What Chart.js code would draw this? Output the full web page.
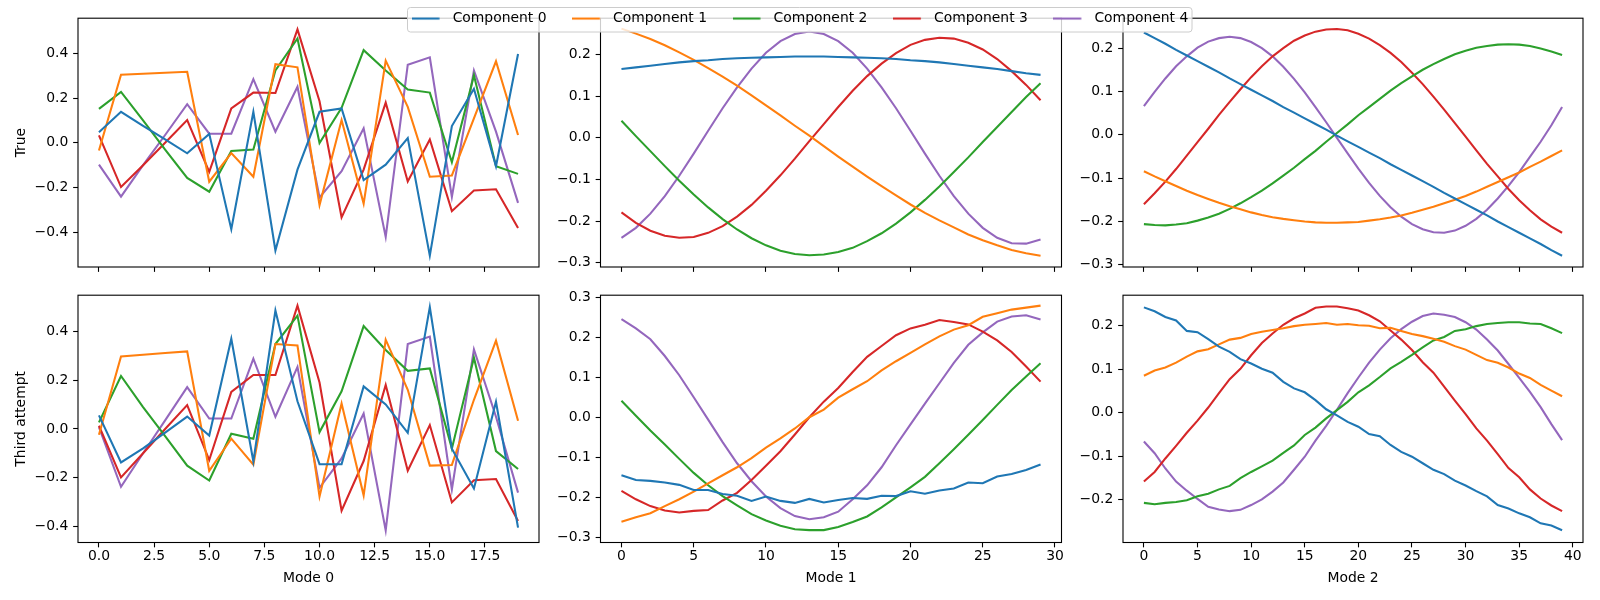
<!DOCTYPE html>
<html><head><meta charset="utf-8">
<script src="https://cdn.jsdelivr.net/npm/chart.js@4.4.0/dist/chart.umd.min.js"></script>
<style>
html,body{margin:0;padding:0;background:#fff;}
#wrap{position:relative;width:1600px;height:600px;overflow:hidden;background:#fff;}
#wrap canvas{position:absolute;}
</style></head><body><div id="wrap"></div>
<script>
const componentNames = ['Component 0','Component 1','Component 2','Component 3','Component 4'];
const componentColors = ['#1f77b4','#ff7f0e','#2ca02c','#d62728','#9467bd'];
const rowLabels = ['True','Third attempt'];
const modeLabels = ['Mode 0','Mode 1','Mode 2'];

const mode0X = [0,1,2,3,4,5,6,7,8,9,10,11,12,13,14,15,16,17,18,19];
const mode1X = [0,1,2,3,4,5,6,7,8,9,10,11,12,13,14,15,16,17,18,19,20,21,22,23,24,25,26,27,28,29];
const mode2X = [0,1,2,3,4,5,6,7,8,9,10,11,12,13,14,15,16,17,18,19,20,21,22,23,24,25,26,27,28,29,30,31,32,33,34,35,36,37,38,39];

const mode0XTicks = [0,2.5,5,7.5,10,12.5,15,17.5];
const mode1XTicks = [0,5,10,15,20,25,30];
const mode2XTicks = [0,5,10,15,20,25,30,35,40];

const trueMode0YTicks = [-0.4,-0.2,0,0.2,0.4];
const thirdMode0YTicks = [-0.4,-0.2,0,0.2,0.4];
const trueMode1YTicks = [-0.3,-0.2,-0.1,0,0.1,0.2];
const thirdMode1YTicks = [-0.3,-0.2,-0.1,0,0.1,0.2,0.3];
const trueMode2YTicks = [-0.3,-0.2,-0.1,0,0.1,0.2];
const thirdMode2YTicks = [-0.2,-0.1,0,0.1,0.2];

const trueMode0 = [
  [0.047,0.139,0.076,0.015,-0.047,0.040,-0.387,0.139,-0.482,-0.120,0.139,0.154,-0.167,-0.098,0.021,-0.505,0.075,0.242,-0.105,0.398],
  [-0.034,0.305,0.309,0.314,0.318,-0.174,-0.046,-0.152,0.352,0.338,-0.279,0.102,-0.272,0.368,0.161,-0.152,-0.146,0.110,0.365,0.035],
  [0.152,0.228,0.100,-0.030,-0.157,-0.219,-0.037,-0.030,0.324,0.467,-0.001,0.157,0.415,0.324,0.239,0.225,-0.087,0.302,-0.105,-0.139],
  [0.033,-0.198,-0.100,0.000,0.102,-0.130,0.154,0.225,0.223,0.508,0.186,-0.334,-0.120,0.180,-0.173,0.015,-0.306,-0.213,-0.208,-0.381],
  [-0.098,-0.241,-0.100,0.035,0.173,0.041,0.041,0.285,0.050,0.251,-0.245,-0.127,0.065,-0.421,0.350,0.383,-0.242,0.324,0.050,-0.269]
];
const thirdMode0 = [
  [0.056,-0.138,-0.080,-0.015,0.051,-0.027,0.371,-0.134,0.487,0.114,-0.145,-0.145,0.175,0.101,-0.016,0.501,-0.081,-0.245,0.112,-0.406],
  [-0.024,0.298,0.305,0.312,0.319,-0.172,-0.040,-0.147,0.349,0.343,-0.278,0.105,-0.273,0.367,0.161,-0.151,-0.148,0.120,0.363,0.034],
  [0.027,0.218,0.090,-0.030,-0.151,-0.212,-0.020,-0.040,0.349,0.466,-0.013,0.155,0.423,0.325,0.239,0.249,-0.081,0.293,-0.091,-0.165],
  [0.013,-0.199,-0.100,0.000,0.098,-0.128,0.152,0.222,0.222,0.507,0.191,-0.336,-0.132,0.181,-0.172,0.016,-0.302,-0.211,-0.206,-0.379],
  [0.007,-0.238,-0.100,0.035,0.172,0.043,0.043,0.289,0.050,0.255,-0.242,-0.121,0.063,-0.417,0.349,0.380,-0.249,0.327,0.050,-0.262]
];
const trueMode1 = [
  [0.165,0.169,0.173,0.177,0.181,0.184,0.186,0.189,0.191,0.192,0.193,0.194,0.195,0.195,0.195,0.194,0.193,0.192,0.191,0.189,0.186,0.184,0.181,0.177,0.173,0.169,0.165,0.160,0.155,0.151],
  [0.262,0.250,0.237,0.222,0.205,0.187,0.167,0.147,0.125,0.102,0.078,0.054,0.029,0.005,-0.020,-0.045,-0.069,-0.093,-0.116,-0.138,-0.160,-0.180,-0.198,-0.215,-0.232,-0.246,-0.258,-0.269,-0.277,-0.283],
  [0.041,0.004,-0.032,-0.068,-0.103,-0.136,-0.167,-0.195,-0.220,-0.241,-0.258,-0.271,-0.279,-0.282,-0.280,-0.274,-0.264,-0.248,-0.229,-0.206,-0.179,-0.149,-0.117,-0.082,-0.047,-0.010,0.026,0.062,0.098,0.131],
  [-0.179,-0.204,-0.223,-0.235,-0.240,-0.238,-0.228,-0.212,-0.189,-0.161,-0.127,-0.090,-0.050,-0.008,0.033,0.074,0.113,0.148,0.178,0.203,0.223,0.235,0.240,0.238,0.228,0.212,0.189,0.160,0.127,0.090],
  [-0.240,-0.216,-0.182,-0.140,-0.091,-0.038,0.017,0.071,0.121,0.166,0.204,0.232,0.249,0.255,0.249,0.232,0.204,0.166,0.121,0.071,0.017,-0.038,-0.091,-0.140,-0.182,-0.216,-0.240,-0.253,-0.254,-0.244]
];
const thirdMode1 = [
  [-0.145,-0.157,-0.159,-0.163,-0.169,-0.182,-0.182,-0.192,-0.196,-0.209,-0.198,-0.209,-0.214,-0.204,-0.213,-0.207,-0.202,-0.204,-0.196,-0.197,-0.185,-0.191,-0.183,-0.178,-0.163,-0.165,-0.148,-0.142,-0.132,-0.118],
  [-0.261,-0.250,-0.240,-0.222,-0.205,-0.186,-0.165,-0.145,-0.125,-0.102,-0.076,-0.053,-0.028,0.000,0.019,0.049,0.070,0.090,0.117,0.140,0.161,0.182,0.202,0.219,0.230,0.251,0.260,0.269,0.274,0.279],
  [0.041,0.004,-0.033,-0.068,-0.104,-0.139,-0.170,-0.197,-0.220,-0.242,-0.258,-0.271,-0.280,-0.282,-0.282,-0.274,-0.262,-0.248,-0.225,-0.200,-0.175,-0.149,-0.115,-0.080,-0.044,-0.007,0.031,0.068,0.102,0.135],
  [-0.184,-0.205,-0.222,-0.233,-0.238,-0.234,-0.232,-0.208,-0.189,-0.157,-0.121,-0.085,-0.043,0.000,0.039,0.073,0.113,0.151,0.178,0.205,0.222,0.231,0.243,0.238,0.232,0.214,0.192,0.163,0.127,0.089],
  [0.245,0.222,0.195,0.153,0.105,0.050,-0.006,-0.062,-0.115,-0.160,-0.198,-0.227,-0.247,-0.255,-0.250,-0.236,-0.205,-0.170,-0.125,-0.070,-0.018,0.034,0.085,0.136,0.181,0.212,0.239,0.252,0.255,0.244]
];
const trueMode2 = [
  [0.236,0.223,0.210,0.196,0.183,0.170,0.157,0.144,0.130,0.117,0.104,0.091,0.078,0.064,0.051,0.038,0.025,0.012,-0.002,-0.015,-0.028,-0.041,-0.054,-0.068,-0.081,-0.094,-0.107,-0.120,-0.134,-0.147,-0.160,-0.173,-0.186,-0.200,-0.213,-0.226,-0.239,-0.252,-0.266,-0.279],
  [-0.084,-0.096,-0.107,-0.118,-0.129,-0.139,-0.148,-0.157,-0.165,-0.172,-0.179,-0.185,-0.190,-0.194,-0.197,-0.200,-0.202,-0.203,-0.203,-0.202,-0.201,-0.198,-0.195,-0.191,-0.186,-0.180,-0.173,-0.166,-0.158,-0.150,-0.141,-0.131,-0.120,-0.109,-0.098,-0.087,-0.074,-0.062,-0.049,-0.036],
  [-0.206,-0.208,-0.209,-0.207,-0.204,-0.198,-0.191,-0.182,-0.171,-0.158,-0.144,-0.129,-0.112,-0.094,-0.076,-0.056,-0.037,-0.016,0.004,0.024,0.045,0.064,0.083,0.102,0.119,0.135,0.150,0.163,0.175,0.186,0.194,0.201,0.205,0.208,0.209,0.208,0.205,0.199,0.192,0.184],
  [-0.160,-0.135,-0.108,-0.079,-0.048,-0.017,0.014,0.046,0.076,0.105,0.133,0.158,0.181,0.200,0.217,0.229,0.238,0.243,0.244,0.241,0.233,0.222,0.207,0.189,0.168,0.143,0.117,0.088,0.058,0.027,-0.004,-0.036,-0.067,-0.096,-0.125,-0.151,-0.174,-0.195,-0.212,-0.226],
  [0.066,0.099,0.130,0.158,0.181,0.201,0.215,0.223,0.226,0.223,0.214,0.200,0.181,0.157,0.129,0.098,0.064,0.029,-0.007,-0.043,-0.078,-0.111,-0.141,-0.167,-0.189,-0.206,-0.218,-0.225,-0.226,-0.221,-0.210,-0.194,-0.173,-0.147,-0.118,-0.086,-0.051,-0.016,0.022,0.064]
];
const thirdMode2 = [
  [0.242,0.233,0.220,0.212,0.188,0.185,0.169,0.152,0.140,0.123,0.113,0.101,0.092,0.071,0.056,0.047,0.029,0.008,-0.006,-0.021,-0.032,-0.049,-0.054,-0.074,-0.090,-0.101,-0.116,-0.131,-0.141,-0.156,-0.167,-0.180,-0.192,-0.212,-0.220,-0.231,-0.240,-0.254,-0.259,-0.270],
  [0.085,0.097,0.104,0.115,0.129,0.141,0.146,0.157,0.168,0.172,0.181,0.186,0.190,0.194,0.199,0.202,0.204,0.206,0.202,0.204,0.201,0.200,0.194,0.195,0.188,0.181,0.176,0.170,0.163,0.153,0.145,0.133,0.121,0.115,0.104,0.090,0.080,0.064,0.051,0.038],
  [-0.207,-0.210,-0.207,-0.205,-0.201,-0.192,-0.186,-0.176,-0.168,-0.150,-0.136,-0.123,-0.110,-0.092,-0.075,-0.051,-0.034,-0.013,0.006,0.025,0.047,0.063,0.082,0.102,0.117,0.133,0.150,0.166,0.174,0.188,0.192,0.199,0.204,0.206,0.208,0.208,0.205,0.204,0.194,0.183],
  [-0.158,-0.136,-0.105,-0.076,-0.046,-0.018,0.012,0.045,0.077,0.101,0.132,0.160,0.182,0.202,0.217,0.228,0.241,0.244,0.244,0.240,0.235,0.224,0.210,0.189,0.168,0.144,0.116,0.092,0.060,0.028,-0.003,-0.036,-0.064,-0.095,-0.127,-0.148,-0.176,-0.197,-0.213,-0.226],
  [-0.066,-0.093,-0.128,-0.158,-0.179,-0.198,-0.216,-0.222,-0.226,-0.223,-0.212,-0.199,-0.181,-0.160,-0.131,-0.101,-0.064,-0.030,0.007,0.045,0.081,0.115,0.145,0.171,0.192,0.209,0.222,0.228,0.225,0.220,0.208,0.191,0.168,0.143,0.112,0.080,0.048,0.013,-0.026,-0.063]
];

// ---- layout (pixels) ----
const FONT = {family: '"DejaVu Sans", sans-serif', size: 13.9};
const LINE_W = 2.08;
const colLeft = [78, 600.5, 1123];
const colWidth = [461, 461, 460];
const rowTop = [15, 292];
const rowHeight = [252, 250.5];
const Y_AXIS_W = 65, PAD_TOP = 10, PAD_RIGHT = 15;

function fmtSigned(v, digits) {
  const s = Math.abs(v).toFixed(digits);
  return (v < -1e-9 ? '\u2212' : '') + s;
}

const framePlugin = {
  id: 'axesFrame',
  afterDatasetsDraw(chart) {
    const a = chart.chartArea, ctx = chart.ctx;
    ctx.save();
    ctx.strokeStyle = '#000';
    ctx.lineWidth = 1.1;
    ctx.strokeRect(a.left, a.top, a.right - a.left, a.bottom - a.top);
    ctx.restore();
  }
};

const wrap = document.getElementById('wrap');

function makePanel(row, col, xs, series, xMin, xMax, xTicks, xDigits, yMin, yMax, yTicks) {
  const L = colLeft[col], T = rowTop[row], W = colWidth[col], H = rowHeight[row];
  const cl = Math.floor(L - Y_AXIS_W);
  const yW = L - cl;
  const ct = Math.floor(T - PAD_TOP);
  const padTop = T - ct;
  const cw = Math.ceil(yW + W + PAD_RIGHT);
  const padRight = cw - yW - W;
  const bottomRow = row === 1;
  const ch = bottomRow ? Math.round(587 - ct) : Math.ceil(padTop + H + 20);
  const xH = ch - padTop - H;

  const cv = document.createElement('canvas');
  cv.width = cw; cv.height = ch;
  cv.style.left = cl + 'px'; cv.style.top = ct + 'px';
  cv.style.width = cw + 'px'; cv.style.height = ch + 'px';
  wrap.appendChild(cv);

  const datasets = series.map((vals, i) => ({
    label: componentNames[i],
    data: xs.map((x, j) => ({x: x, y: vals[j]})),
    borderColor: componentColors[i],
    backgroundColor: componentColors[i],
    borderWidth: LINE_W,
    pointRadius: 0,
    tension: 0,
    fill: false
  }));

  const gridOpts = {display: true, drawOnChartArea: false, drawTicks: true, tickLength: 4.86, color: '#000', tickColor: '#000', tickWidth: 1.1};

  return new Chart(cv, {
    type: 'line',
    data: {datasets},
    options: {
      responsive: false, animation: false, devicePixelRatio: 1,
      layout: {padding: {left: 0, top: padTop, right: padRight, bottom: 0}, autoPadding: false},
      plugins: {legend: {display: false}, tooltip: {enabled: false}},
      scales: {
        x: {
          type: 'linear', min: xMin, max: xMax, bounds: 'data',
          afterBuildTicks(s) { s.ticks = xTicks.map(v => ({value: v})); },
          afterFit(s) { s.height = xH; },
          grid: gridOpts,
          border: {display: false},
          ticks: {color: '#000', font: FONT, padding: 0.5, maxRotation: 0, autoSkip: false,
                  callback(v) { return bottomRow ? fmtSigned(v, xDigits) : ''; }},
          title: {display: bottomRow, text: modeLabels[col], color: '#000', font: FONT, padding: {top: 0, bottom: 0}}
        },
        y: {
          type: 'linear', min: yMin, max: yMax, bounds: 'data',
          afterBuildTicks(s) { s.ticks = yTicks.map(v => ({value: v})); },
          afterFit(s) { s.width = yW; },
          grid: gridOpts,
          border: {display: false},
          ticks: {color: '#000', font: FONT, padding: 4.86, autoSkip: false,
                  callback(v) { return fmtSigned(v, 1); }},
          title: {display: col === 0, text: rowLabels[row], color: '#000', font: FONT, padding: {top: 0, bottom: 0}}
        }
      }
    },
    plugins: [framePlugin]
  });
}

makePanel(0, 0, mode0X, trueMode0, -0.95, 19.95, mode0XTicks, 1, -0.556, 0.558, trueMode0YTicks);
makePanel(0, 1, mode1X, trueMode1, -1.45, 30.45, mode1XTicks, 0, -0.310, 0.287, trueMode1YTicks);
makePanel(0, 2, mode2X, trueMode2, -1.95, 40.95, mode2XTicks, 0, -0.305, 0.269, trueMode2YTicks);
makePanel(1, 0, mode0X, thirdMode0, -0.95, 19.95, mode0XTicks, 1, -0.467, 0.550, thirdMode0YTicks);
makePanel(1, 1, mode1X, thirdMode1, -1.45, 30.45, mode1XTicks, 0, -0.313, 0.305, thirdMode1YTicks);
makePanel(1, 2, mode2X, thirdMode2, -1.95, 40.95, mode2XTicks, 0, -0.298, 0.270, thirdMode2YTicks);

// ---- figure legend ----
const LEG_TOP = -14;
const LEG_PAD = 25.6;
const HANDLE_BOX = 34, HANDLE_LEN = 27.8;
function makeHandle(color) {
  const c = document.createElement('canvas');
  c.width = HANDLE_BOX; c.height = 6;
  const g = c.getContext('2d');
  g.strokeStyle = color; g.lineWidth = LINE_W;
  g.beginPath(); g.moveTo(0, 3); g.lineTo(HANDLE_LEN, 3); g.stroke();
  return c;
}
const legendFrame = {
  id: 'legendFrame',
  beforeDraw(chart) {
    const ctx = chart.ctx;
    ctx.save();
    ctx.beginPath();
    ctx.roundRect(407.5, 7.5 - LEG_TOP, 784.5, 24.5, 3);
    ctx.fillStyle = 'rgba(255,255,255,0.8)';
    ctx.fill();
    ctx.strokeStyle = '#cccccc';
    ctx.lineWidth = 1;
    ctx.stroke();
    ctx.restore();
  }
};
const lc = document.createElement('canvas');
lc.width = 1600; lc.height = 200;
lc.style.left = '0px'; lc.style.top = LEG_TOP + 'px';
lc.style.width = '1600px'; lc.style.height = '200px';
lc.style.zIndex = 10;
wrap.appendChild(lc);
new Chart(lc, {
  type: 'line',
  data: {datasets: componentNames.map((n, i) => ({
    label: n, data: [], borderColor: componentColors[i], backgroundColor: componentColors[i],
    borderWidth: LINE_W, pointStyle: makeHandle(componentColors[i])
  }))},
  options: {
    responsive: false, animation: false, devicePixelRatio: 1,
    layout: {padding: 0},
    scales: {x: {display: false}, y: {display: false}},
    plugins: {
      tooltip: {enabled: false},
      legend: {display: true, position: 'top', align: 'center', maxHeight: 150,
        labels: {usePointStyle: true, pointStyleWidth: HANDLE_BOX, padding: LEG_PAD, color: '#000', font: FONT}}
    }
  },
  plugins: [legendFrame]
});
</script></body></html>
